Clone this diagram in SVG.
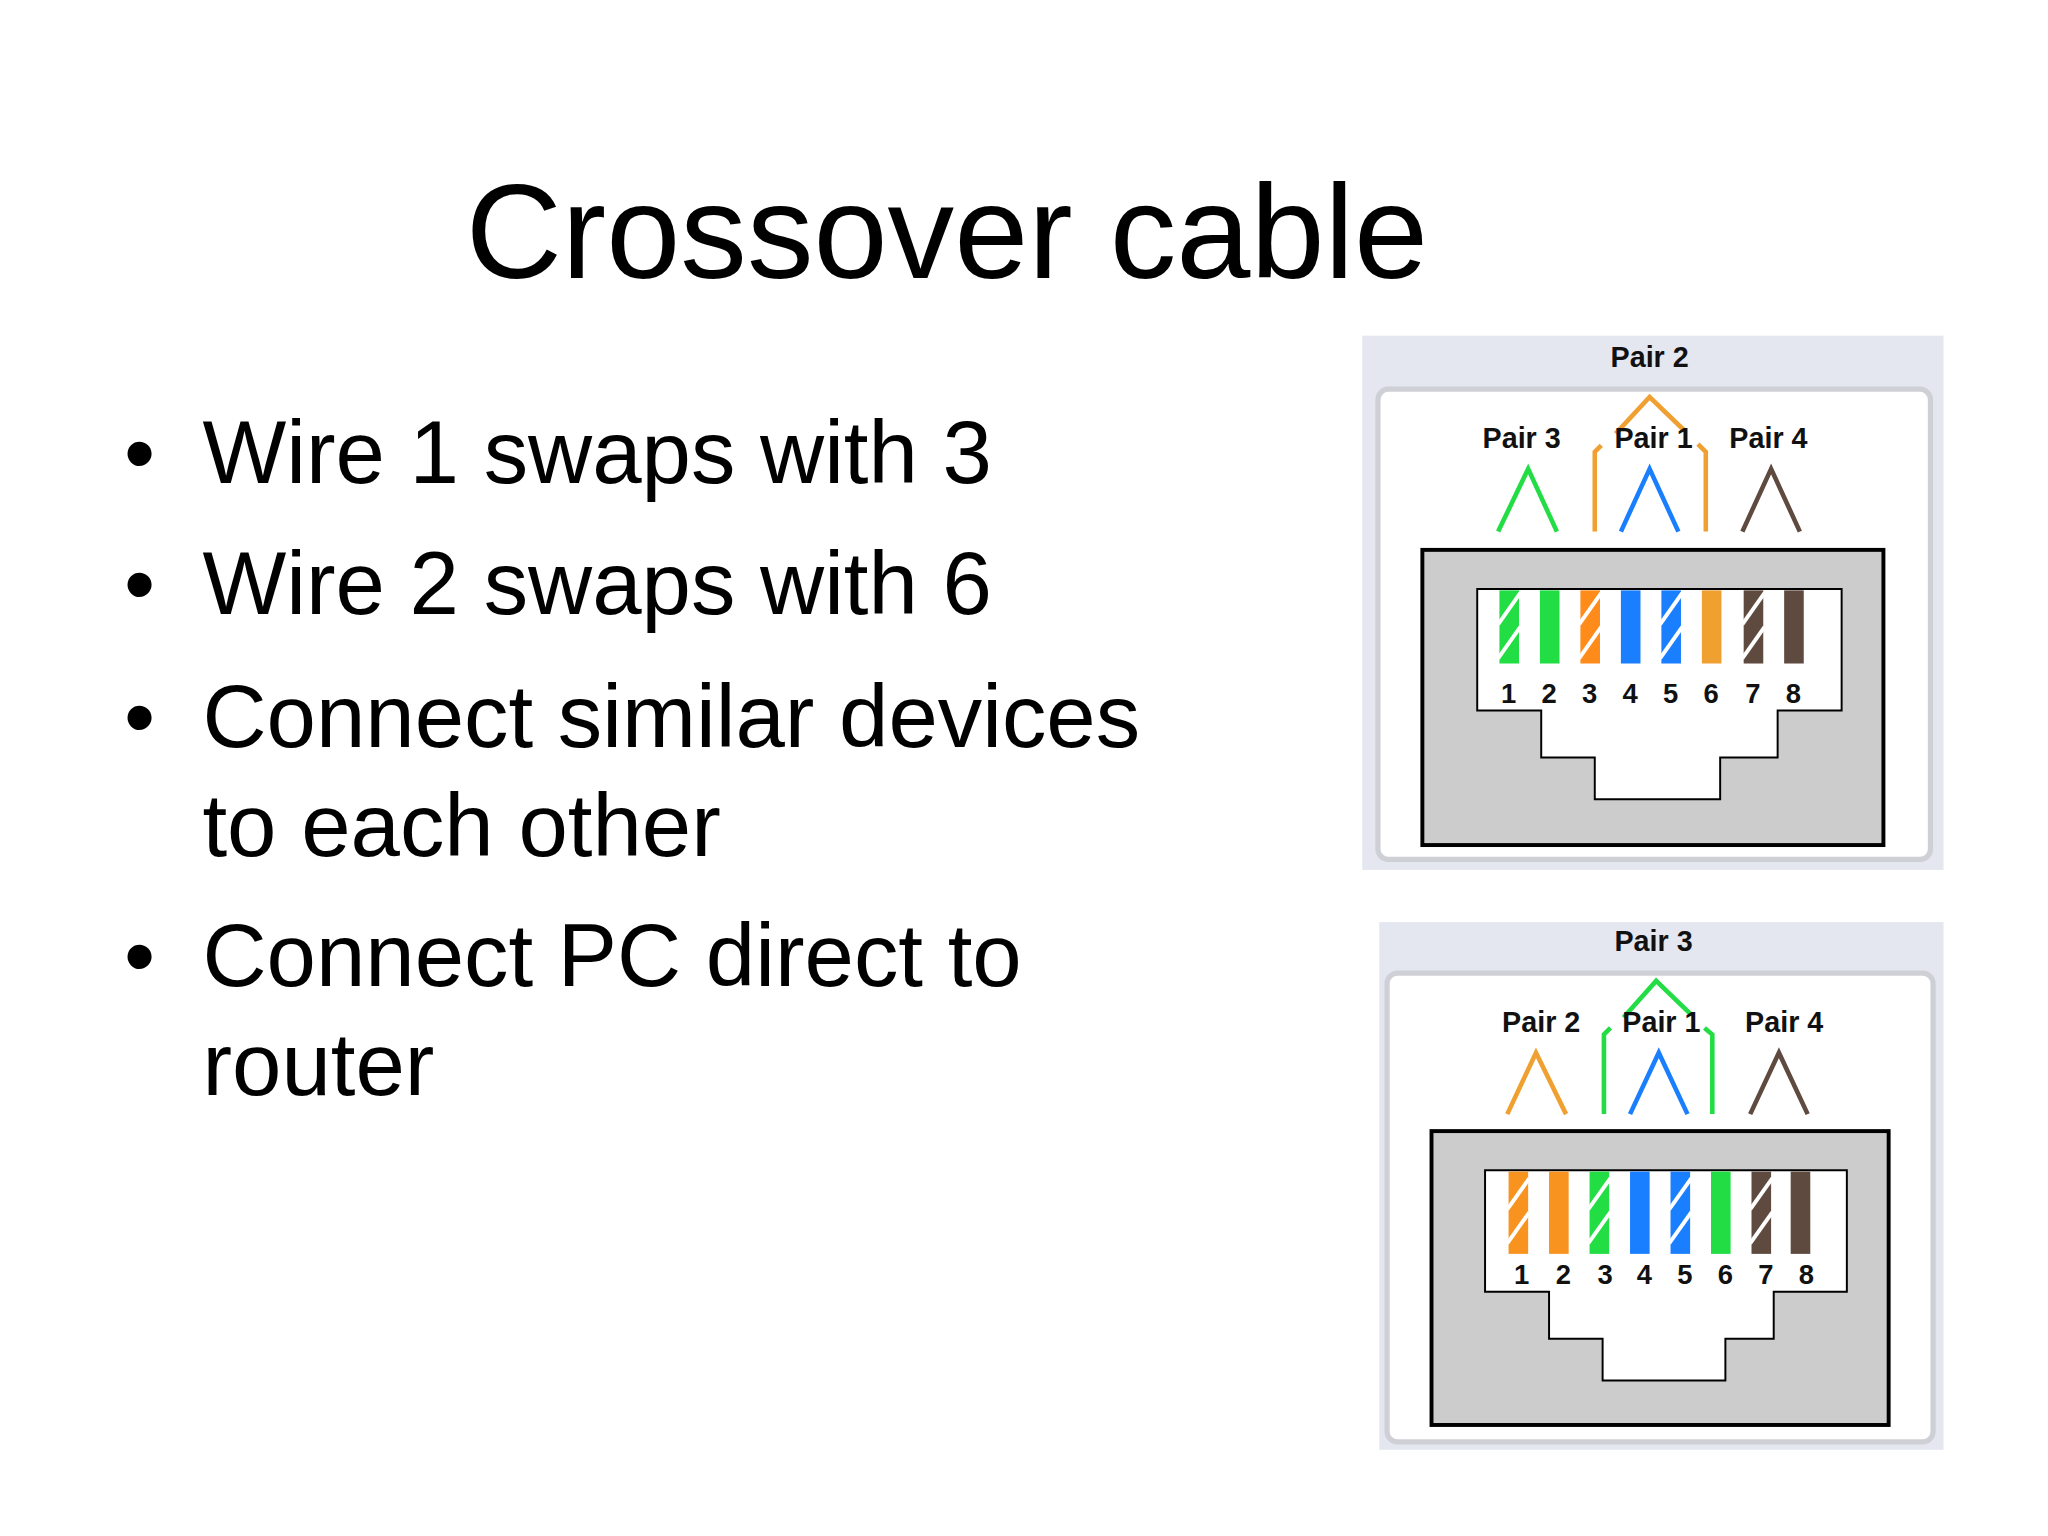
<svg xmlns="http://www.w3.org/2000/svg" width="2048" height="1536" viewBox="0 0 2048 1536">
<style>
.t{font-family:"Liberation Sans",Arial,sans-serif;fill:#000}
.p{font-family:"Liberation Sans",Arial,sans-serif;font-weight:bold;font-size:22px;text-anchor:middle;fill:#111}
.n{font-family:"Liberation Sans",Arial,sans-serif;font-weight:bold;font-size:21px;text-anchor:middle;fill:#111}
.v{fill:none;stroke-width:3.5}
.st{stroke:#fff;stroke-width:3}
</style>
<defs>
<g id="stripes"><line class="st" x1="-1" y1="26" x2="16" y2="2"/><line class="st" x1="-1" y1="52" x2="16" y2="28"/></g>
</defs>
<rect width="2048" height="1536" fill="#fff"/>
<g transform="scale(1.30612)">
<g id="text">
<text class="t" x="725" y="213" font-size="102" text-anchor="middle">Crossover cable</text>
<g font-size="68">
<text class="t" x="95" y="370">•</text><text class="t" x="155" y="370">Wire 1 swaps with 3</text>
<text class="t" x="95" y="470">•</text><text class="t" x="155" y="470">Wire 2 swaps with 6</text>
<text class="t" x="95" y="572">•</text><text class="t" x="155" y="572">Connect similar devices</text>
<text class="t" x="155" y="655">to each other</text>
<text class="t" x="95" y="755">•</text><text class="t" x="155" y="755">Connect PC direct to</text>
<text class="t" x="155" y="838">router</text>
</g>
</g>
<g id="top">
<rect x="1043" y="257" width="445" height="409" fill="#e4e6f0"/>
<rect x="1055" y="298" width="423" height="360" rx="8" fill="#fff" stroke="#cfd0d6" stroke-width="4"/>
<text class="p" x="1263" y="281">Pair 2</text>
<path class="v" stroke="#22dd44" d="M1147,407 L1170,359 L1192,407"/>
<path class="v" stroke="#1a7fff" d="M1241,407 L1263,359 L1285,407"/>
<path class="v" stroke="#5f4a40" d="M1334,407 L1356,359 L1378,407"/>
<path class="v" stroke="#f0a030" stroke-width="3" d="M1221,407 V346 L1226,341 M1237,332 L1263,304 L1290,330 M1300,340 L1306,346 V407"/>
<text class="p" x="1165" y="343">Pair 3</text><text class="p" x="1266" y="343">Pair 1</text><text class="p" x="1354" y="343">Pair 4</text>
<rect x="1089" y="421" width="353" height="226" fill="#cccccc" stroke="#000" stroke-width="3"/>
<path d="M1131,451 H1410 V544 H1361 V580 H1317 V612 H1221 V580 H1180 V544 H1131 Z" fill="#fff" stroke="#000" stroke-width="1.5"/>
<rect x="1148" y="452" width="15" height="56" fill="#22dd44"/><use href="#stripes" x="1148" y="452"/>
<rect x="1179" y="452" width="15" height="56" fill="#22dd44"/>
<rect x="1210" y="452" width="15" height="56" fill="#ff8c1a"/><use href="#stripes" x="1210" y="452"/>
<rect x="1241" y="452" width="15" height="56" fill="#1a7fff"/>
<rect x="1272" y="452" width="15" height="56" fill="#1a7fff"/><use href="#stripes" x="1272" y="452"/>
<rect x="1303" y="452" width="15" height="56" fill="#f0a030"/>
<rect x="1335" y="452" width="15" height="56" fill="#5f4a40"/><use href="#stripes" x="1335" y="452"/>
<rect x="1366" y="452" width="15" height="56" fill="#5f4a40"/>
<text class="n" x="1155" y="538">1</text><text class="n" x="1186" y="538">2</text><text class="n" x="1217" y="538">3</text><text class="n" x="1248" y="538">4</text><text class="n" x="1279" y="538">5</text><text class="n" x="1310" y="538">6</text><text class="n" x="1342" y="538">7</text><text class="n" x="1373" y="538">8</text>
</g>
<g id="bottom">
<rect x="1056" y="706" width="432" height="404" fill="#e4e6f0"/>
<rect x="1062" y="745" width="418" height="359" rx="8" fill="#fff" stroke="#cfd0d6" stroke-width="4"/>
<text class="p" x="1266" y="728">Pair 3</text>
<path class="v" stroke="#f0a030" d="M1154,853 L1176,806 L1199,853"/>
<path class="v" stroke="#1a7fff" d="M1248,853 L1270,806 L1292,853"/>
<path class="v" stroke="#5f4a40" d="M1340,853 L1362,806 L1384,853"/>
<path class="v" stroke="#22dd44" stroke-width="3" d="M1228,853 V792 L1233,787 M1243,779 L1268,751 L1295,777 M1305,787 L1311,792 V853"/>
<text class="p" x="1180" y="790">Pair 2</text><text class="p" x="1272" y="790">Pair 1</text><text class="p" x="1366" y="790">Pair 4</text>
<rect x="1096" y="866" width="350" height="225" fill="#cccccc" stroke="#000" stroke-width="3"/>
<path d="M1137,896 H1414 V989 H1358 V1025 H1321 V1057 H1227 V1025 H1186 V989 H1137 Z" fill="#fff" stroke="#000" stroke-width="1.5"/>
<rect x="1155" y="897" width="15" height="63" fill="#f7931e"/><use href="#stripes" x="1155" y="900"/>
<rect x="1186" y="897" width="15" height="63" fill="#f7931e"/>
<rect x="1217" y="897" width="15" height="63" fill="#22dd44"/><use href="#stripes" x="1217" y="900"/>
<rect x="1248" y="897" width="15" height="63" fill="#1a7fff"/>
<rect x="1279" y="897" width="15" height="63" fill="#1a7fff"/><use href="#stripes" x="1279" y="900"/>
<rect x="1310" y="897" width="15" height="63" fill="#22dd44"/>
<rect x="1341" y="897" width="15" height="63" fill="#5f4a40"/><use href="#stripes" x="1341" y="900"/>
<rect x="1371" y="897" width="15" height="63" fill="#5f4a40"/>
<text class="n" x="1165" y="983">1</text><text class="n" x="1197" y="983">2</text><text class="n" x="1229" y="983">3</text><text class="n" x="1259" y="983">4</text><text class="n" x="1290" y="983">5</text><text class="n" x="1321" y="983">6</text><text class="n" x="1352" y="983">7</text><text class="n" x="1383" y="983">8</text>
</g>
</g>
</svg>
